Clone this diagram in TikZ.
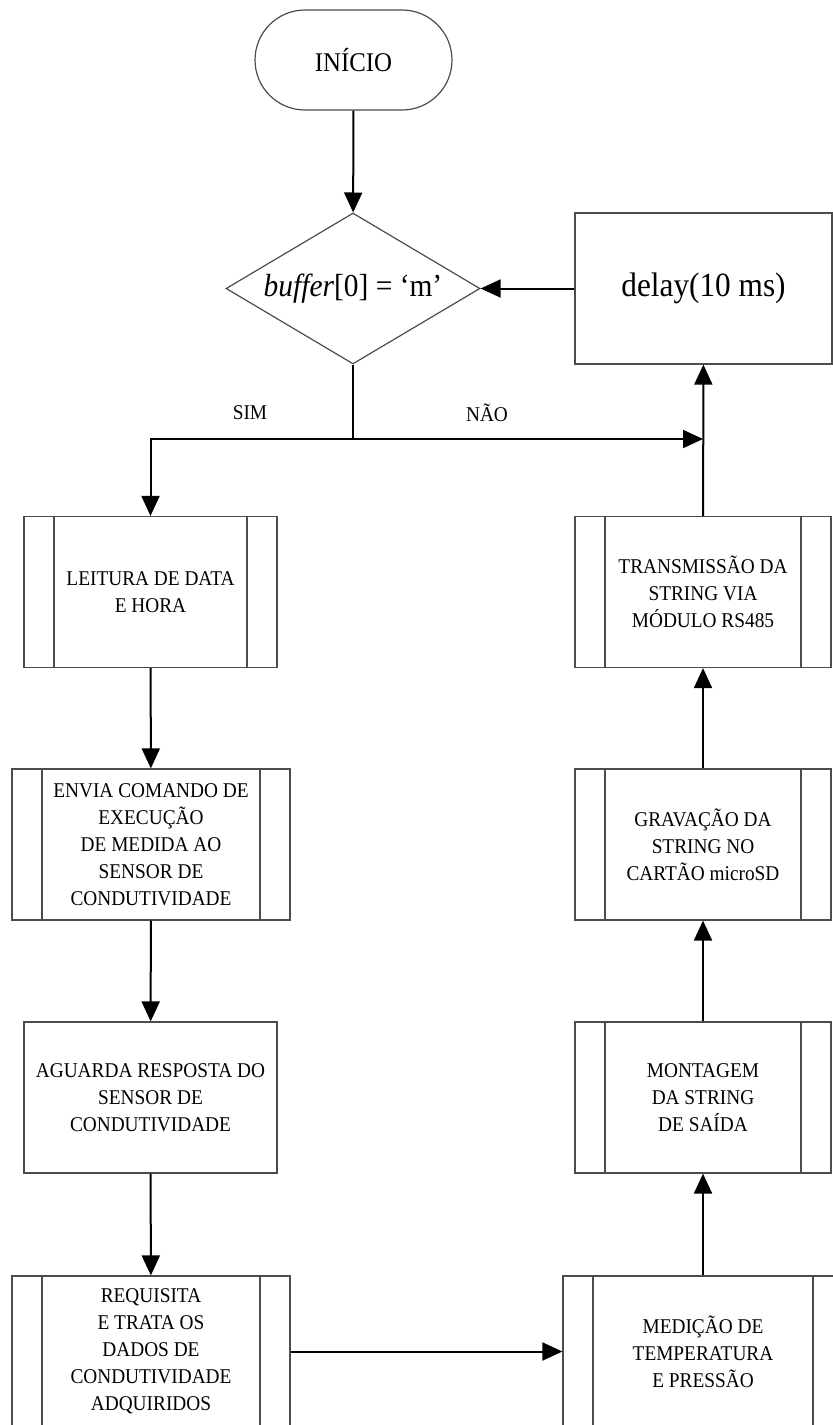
\documentclass[tikz,border=0pt]{standalone}
\usepackage{fontspec}
\setmainfont{Liberation Serif}[FakeStretch=0.92]
\usetikzlibrary{shapes.geometric,arrows.meta}

\begin{document}
\begin{tikzpicture}[x=0.5pt,y=-0.5pt]
        \tikzstyle{every node}=[draw=black!70,line width=0.6pt,align=center,inner sep=2pt,font=\fontsize{10.5}{13.5}\selectfont]
        \tikzstyle{caixa}=[rectangle,minimum width=128pt,minimum height=75.5pt]
        \tikzstyle{larga}=[caixa,minimum width=139pt]
        \tikzstyle{sub}=[path picture={\draw[black!70,line width=0.6pt] ([xshift=15pt]path picture bounding box.north west) -- ([xshift=15pt]path picture bounding box.south west) ([xshift=-15pt]path picture bounding box.north east) -- ([xshift=-15pt]path picture bounding box.south east);}]
        \tikzstyle{seta}=[draw=black,line width=1pt,-{Triangle[length=10pt,width=9pt]}]
        \tikzstyle{rotulo}=[draw=none]
        \useasboundingbox (0,0) rectangle (833,1425);
        \node[rectangle,rounded corners=25pt,minimum width=98.5pt,minimum height=50pt,font=\fontsize{13.5}{16}\selectfont] (ini) at (353.5,60) {INÍCIO};
        \node[diamond,aspect=1.68,inner sep=0pt,minimum width=127pt,minimum height=75.5pt,font=\fontsize{16}{19}\selectfont] (dec) at (353,288.5) {\textit{buffer}[0] = `m'};
        \node[caixa,minimum width=128.5pt,font=\fontsize{17}{20}\selectfont] (espera) at (703.5,288.5) {delay(10 ms)};
        \node[rotulo] (sim) at (250,413) {SIM};
        \node[rotulo] (nao) at (487,413) {NÃO};
        % coluna da esquerda
        \node[caixa,sub,minimum width=126.5pt] (data) at (150.5,592) {LEITURA DE DATA\\E HORA};
        \node[larga,sub] (cmd) at (151,844.5) {ENVIA COMANDO DE\\EXECUÇÃO\\DE MEDIDA AO\\SENSOR DE\\CONDUTIVIDADE};
        \node[caixa,minimum width=126.5pt] (resp) at (150.5,1097.5) {AGUARDA RESPOSTA DO\\SENSOR DE\\CONDUTIVIDADE};
        \node[larga,sub] (dados) at (151,1351.5) {REQUISITA\\E TRATA OS\\DADOS DE\\CONDUTIVIDADE\\ADQUIRIDOS};
        % coluna da direita
        \node[larga,sub,minimum width=140pt] (tp) at (703,1351.5) {MEDIÇÃO DE\\TEMPERATURA\\E PRESSÃO};
        \node[caixa,sub] (str) at (703,1097.5) {MONTAGEM\\DA STRING\\DE SAÍDA};
        \node[caixa,sub] (sd) at (703,844.5) {GRAVAÇÃO DA\\STRING NO\\CARTÃO microSD};
        \node[caixa,sub] (rs) at (703,592) {TRANSMISSÃO DA\\STRING VIA\\MÓDULO RS485};
        \coordinate (meio) at (353,439);
        \coordinate (volta) at (703,439);
        \draw[seta] (ini) -- (dec);
        \draw[seta] (espera) -- (dec);
        \draw[line width=1pt] (dec.south) -- (meio);
        \draw[seta] (meio) -| (data);
        \draw[seta] (meio) -- (volta);
        \draw[seta] (rs) -- (espera);
        \draw[seta] (data) -- (cmd);
        \draw[seta] (cmd) -- (resp);
        \draw[seta] (resp) -- (dados);
        \draw[seta] (dados) -- (tp);
        \draw[seta] (tp) -- (str);
        \draw[seta] (str) -- (sd);
        \draw[seta] (sd) -- (rs);
\end{tikzpicture}
\end{document}
